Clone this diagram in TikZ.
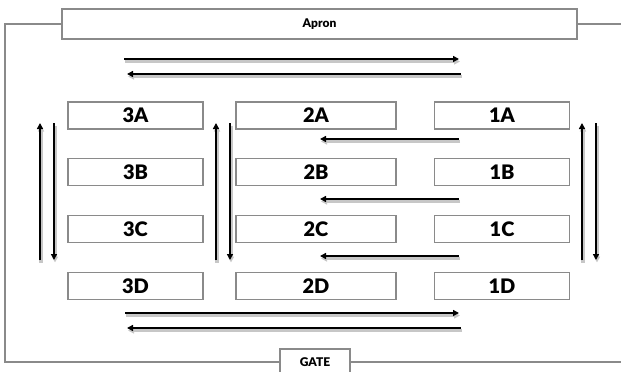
\documentclass[tikz,border=0pt]{standalone}
\usepackage{fontspec}
\setmainfont{Lato}[BoldFont={Lato Black}]
\usetikzlibrary{arrows.meta}
\definecolor{boxgray}{HTML}{8A8A8A}
\tikzset{
  stand/.style={draw=boxgray, line width=1.2pt, fill=white, minimum width=135pt, minimum height=27pt, inner sep=0pt, font=\fontsize{20}{20}\selectfont\bfseries},
  standwide/.style={stand, minimum width=160pt},
  framebox/.style={draw=boxgray, line width=1.2pt, fill=white, inner sep=0pt, font=\fontsize{12}{12}\selectfont\bfseries},
  frameline/.style={draw=boxgray, line width=1.2pt},
  flow/.style={draw=black, line width=2.2pt, -{Triangle[length=6pt,width=6pt]},
    preaction={draw=black!22, line width=3.5pt, transform canvas={xshift=1pt,yshift=-2.5pt}}},
}
\begin{document}
\begin{tikzpicture}[x=1pt,y=-1pt]
\useasboundingbox (0,0) rectangle (621,372);
% apron and gate
\node[framebox, minimum width=515pt, minimum height=30pt] (apron) at (319.5,24) {Apron};
\node[framebox, minimum width=70pt, minimum height=26pt] (gate) at (315,362) {GATE};
\coordinate (fl) at (5,24);
\coordinate (fbl) at (5,362);
\coordinate (fr) at (621,24);
\coordinate (fbr) at (621,362);
\draw[frameline] (apron.west) -- (fl) -- (fbl) -- (gate.west);
\draw[frameline] (gate.east) -- (fbr);
\draw[frameline] (apron.east) -- (fr);
% stands
\foreach \r/\y in {A/115.5,B/172,C/229,D/286}{
  \node[stand] (s3\r) at (135.5,\y) {3\r};
  \node[standwide] (s2\r) at (316,\y) {2\r};
  \node[stand] (s1\r) at (502,\y) {1\r};
}
% coordinates for arrows
\coordinate (t1a) at (124,59);  \coordinate (t1b) at (459,59);
\coordinate (t2a) at (461,74);  \coordinate (t2b) at (127,74);
\coordinate (b1a) at (125,313); \coordinate (b1b) at (459,313);
\coordinate (b2a) at (461,328); \coordinate (b2b) at (127,328);
\draw[flow] (t1a) -- (t1b);
\draw[flow] (t2a) -- (t2b);
\draw[flow] (b1a) -- (b1b);
\draw[flow] (b2a) -- (b2b);
\foreach \n/\y in {1/139,2/199,3/256}{
  \coordinate (h\n a) at (459,\y);
  \coordinate (h\n b) at (320,\y);
  \draw[flow] (h\n a) -- (h\n b);
}
\foreach \n/\xu/\xd in {1/40/54,2/216/230,3/582/596}{
  \coordinate (u\n a) at (\xu,260);
  \coordinate (u\n b) at (\xu,123);
  \coordinate (d\n a) at (\xd,123);
  \coordinate (d\n b) at (\xd,260);
  \draw[flow] (u\n a) -- (u\n b);
  \draw[flow] (d\n a) -- (d\n b);
}
\end{tikzpicture}
\end{document}
